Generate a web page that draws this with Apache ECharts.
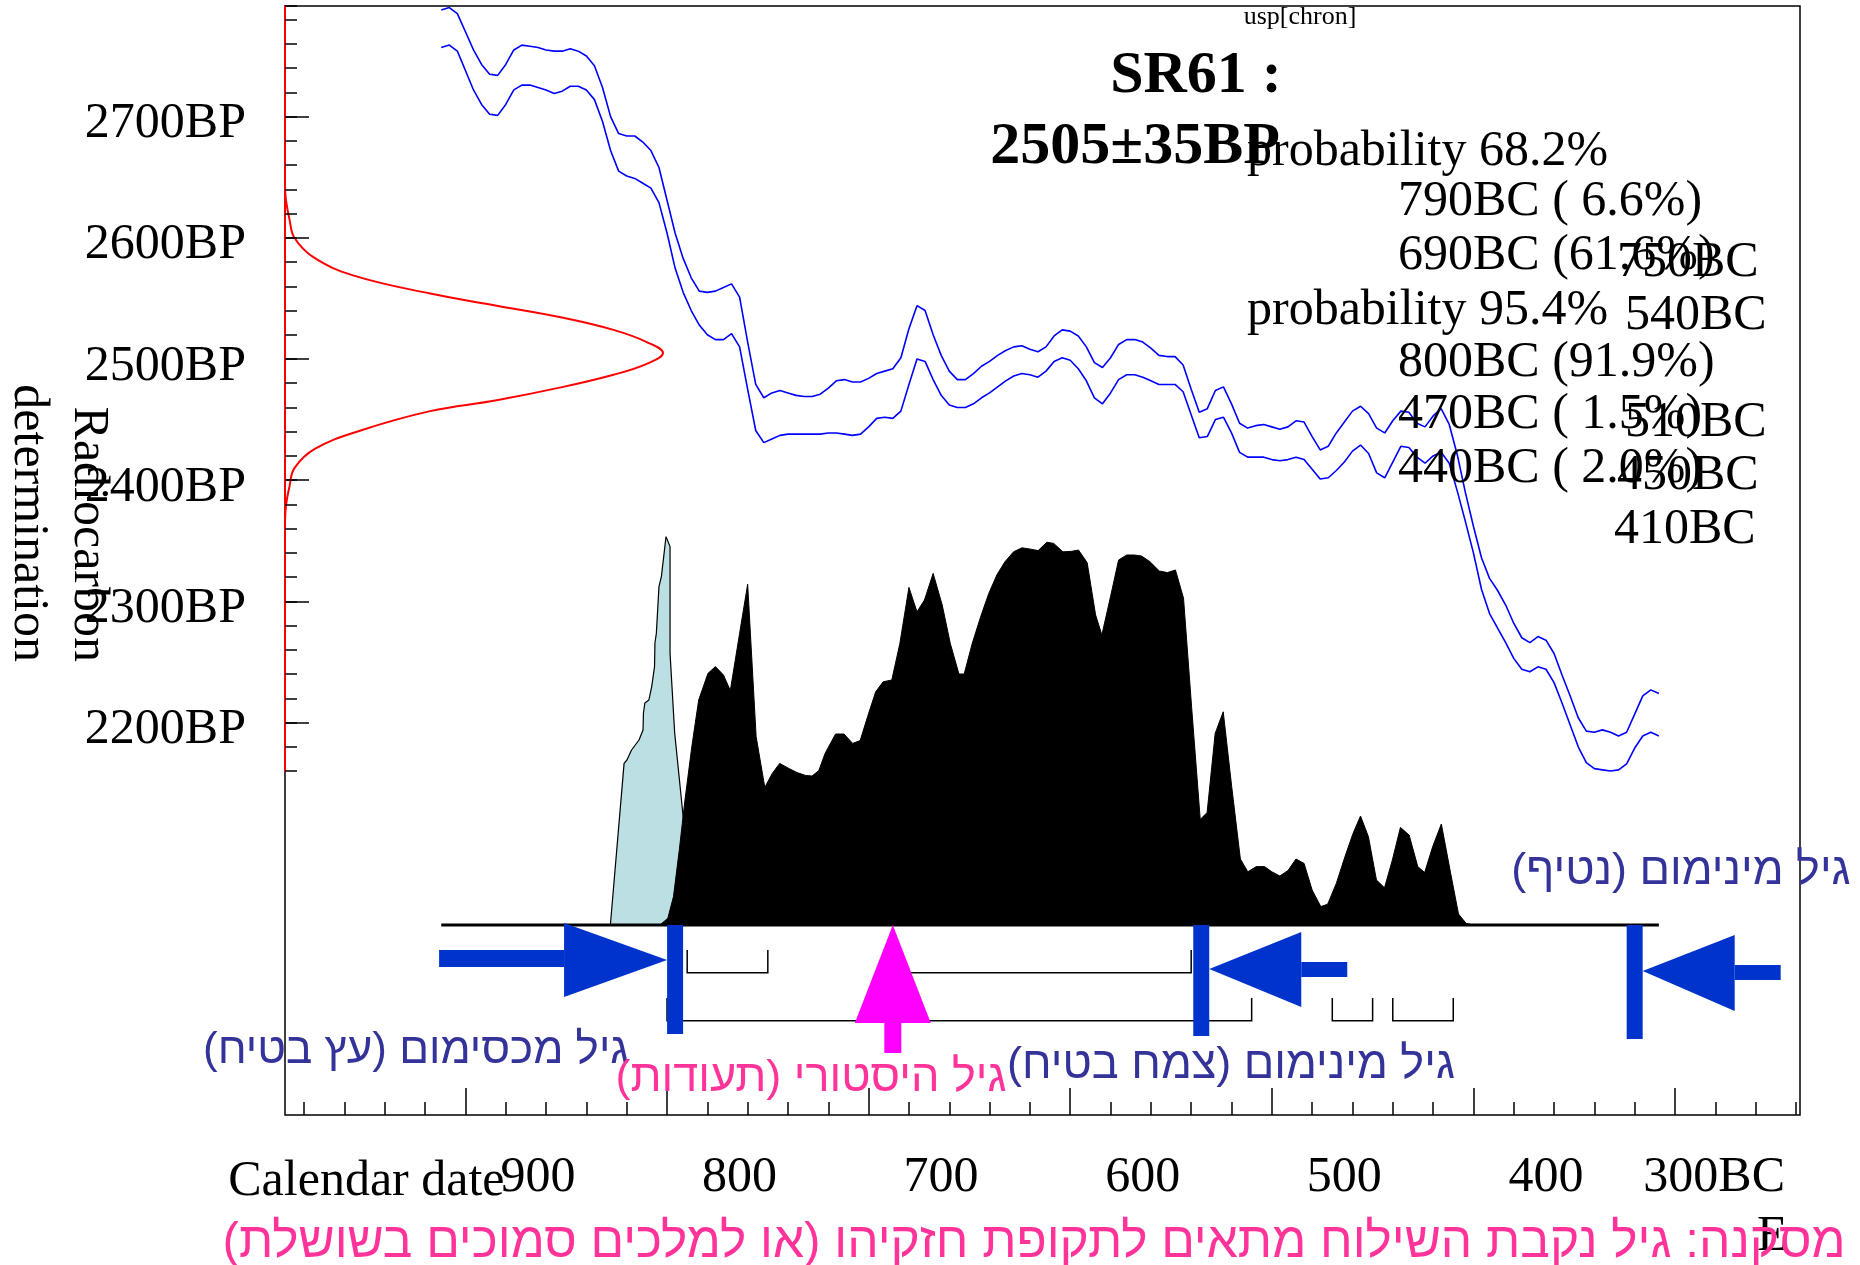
<!DOCTYPE html>
<html><head><meta charset="utf-8">
<script src="https://cdn.jsdelivr.net/npm/echarts@6/dist/echarts.min.js"></script>
<style>html,body{margin:0;padding:0;background:#fff}#chart{width:1860px;height:1265px}</style>
</head><body><div id="chart"></div>
<script>
// ================= DATA =================
// calibration curve (±1 sigma envelope), calendar years BC
const calYears = [912,908,904,900,896,892,888,884,880,876,872,868,864,860,856,852,848,844,840,836,832,828,824,820,816,812,808,804,800,
796,792,788,784,780,776,772,768,764,760,756,752,748,744,740,736,732,728,724,720,716,712,708,704,700,
696,692,688,684,680,676,672,668,664,660,656,652,648,644,640,636,632,628,624,620,616,612,608,604,600,
596,592,588,584,580,576,572,568,564,560,556,552,548,544,540,536,532,528,524,520,516,512,508,504,500,
496,492,488,484,480,476,472,468,464,460,456,452,448,444,440,436,432,428,424,420,416,412,408,404,400,
396,392,388,384,380,376,372,368,364,360,356,352,348,344,340,336,332,328,324,320,316,312,308];
const calUpperBP = [2788,2790,2785,2770,2755,2743,2735,2734,2743,2755,2759,2758,2757,2755,2754,2754,2756,2754,2750,2742,2724,2700,2686,2684,2684,2679,2672,2658,2631,
2604,2583,2567,2556,2555,2556,2559,2562,2551,2514,2479,2468,2472,2474,2472,2470,2469,2469,2471,2476,2482,2483,2481,2481,2484,
2488,2490,2492,2501,2525,2544,2540,2520,2503,2490,2483,2483,2488,2494,2498,2503,2507,2510,2511,2508,2506,2510,2519,2524,2523,
2519,2510,2497,2493,2501,2512,2516,2516,2514,2509,2503,2502,2502,2495,2475,2456,2459,2474,2477,2463,2447,2443,2445,2446,2444,
2442,2444,2449,2448,2436,2425,2428,2439,2448,2457,2461,2455,2443,2439,2449,2457,2456,2447,2444,2453,2459,2446,2421,2390,2362,
2336,2319,2309,2297,2282,2270,2266,2271,2268,2257,2239,2222,2204,2193,2192,2194,2192,2189,2192,2207,2222,2227,2224];
const calLowerBP = [2757,2759,2754,2738,2722,2710,2702,2701,2710,2722,2726,2726,2724,2722,2719,2721,2725,2725,2722,2714,2696,2672,2655,2651,2649,2645,2641,2629,2604,
2575,2555,2540,2528,2520,2516,2516,2521,2510,2475,2441,2431,2434,2437,2438,2438,2438,2438,2438,2439,2439,2438,2437,2438,2444,
2451,2452,2451,2457,2479,2500,2498,2483,2470,2462,2460,2460,2463,2468,2472,2477,2482,2486,2488,2487,2485,2490,2498,2501,2499,
2492,2482,2468,2463,2472,2483,2487,2487,2485,2482,2479,2479,2479,2473,2454,2435,2436,2450,2452,2439,2423,2419,2419,2419,2417,
2416,2417,2419,2417,2409,2401,2402,2408,2415,2424,2429,2422,2406,2402,2415,2428,2427,2419,2414,2420,2423,2414,2391,2366,2340,
2310,2290,2278,2266,2253,2244,2242,2246,2244,2233,2216,2198,2180,2167,2162,2161,2160,2161,2166,2179,2189,2192,2189];

// measured radiocarbon date 2505±35BP : [relative density, BP]
const measuredCurve = [[0,2640],[0.003,2630],[0.012,2615],[0.025,2600],[0.075,2584],[0.18,2569],[0.384,2554],[0.56,2544],
[0.736,2534],[0.869,2524],[0.957,2514],[1.0,2505],[0.957,2496],[0.869,2487],[0.736,2477],[0.56,2466],[0.384,2457],
[0.2,2441],[0.08,2426],[0.025,2410],[0.012,2395],[0.003,2380],[0,2365]];

// light (other) distribution : [year BC, relative probability]
const lightDist = [[828.1,0],[821.3,0.404],[819.9,0.4125],[817.6,0.4375],[813.9,0.4625],[811.9,0.4875],[811.7,0.53],
[811.0,0.555],[809.0,0.5625],[807.6,0.596],[806.2,0.646],[806.0,0.705],[805.3,0.729],[804.0,0.846],[802.8,0.871],
[800.5,0.971],[798.5,0.946],[798.5,0.679],[796.2,0.48],[792.0,0.271],[786.0,0]];

// calibrated distribution : [year BC, relative probability]
const calibDist = [[803.5,0],[799.6,0.017],[796.8,0.071],[793.9,0.188],[791.1,0.3125],[787.7,0.446],[784.3,0.5625],
[779.7,0.629],[776.0,0.646],[772.0,0.625],[768.6,0.586],[764.0,0.729],[760.0,0.852],[755.8,0.471],[751.5,0.344],
[747.8,0.379],[744.1,0.404],[739.8,0.392],[735.5,0.381],[731.3,0.374],[728.1,0.3725],[724.7,0.386],[721.6,0.429],
[716.4,0.4775],[712.2,0.4775],[707.9,0.454],[704.2,0.461],[700.5,0.521],[696.5,0.583],[692.8,0.608],[688.5,0.6125],
[684.5,0.704],[680.0,0.844],[676.0,0.783],[672.3,0.8125],[668.0,0.879],[663.5,0.8],[659.5,0.704],[655.2,0.6275],
[652.6,0.6275],[648.6,0.704],[644.4,0.771],[640.4,0.829],[636.4,0.875],[632.4,0.908],[628.1,0.933],[623.9,0.943],
[620.1,0.94],[615.9,0.936],[611.6,0.957],[608.2,0.954],[603.6,0.933],[599.6,0.934],[595.9,0.9375],[591.6,0.906],
[587.4,0.775],[584.3,0.725],[580.0,0.821],[576.0,0.9125],[572.0,0.925],[568.3,0.925],[564.6,0.9225],[560.4,0.908],
[555.8,0.885],[551.8,0.881],[547.8,0.8875],[543.8,0.817],[539.8,0.546],[535.5,0.264],[532.1,0.281],[528.1,0.479],
[524.1,0.533],[519.9,0.346],[515.6,0.165],[511.9,0.133],[507.7,0.146],[503.6,0.146],[500.0,0.133],[496.0,0.1225],
[492.0,0.136],[488.0,0.165],[484.0,0.154],[480.0,0.0875],[475.7,0.046],[472.3,0.052],[468.0,0.104],[463.7,0.171],
[459.7,0.229],[456.0,0.2725],[452.1,0.221],[448.1,0.1125],[444.1,0.093],[440.2,0.1625],[436.2,0.244],[431.9,0.225],
[427.6,0.146],[424.2,0.131],[420.2,0.196],[415.9,0.2525],[411.6,0.1375],[407.4,0.0275],[403.6,0.004],[400.0,0]];

const plotRange = [912, 308];
const range68 = [[790,750],[690,540]];
const range95 = [[800,510],[470,450],[440,410]];
const boundYears = [796, 535, 320];      // max age (tree), min age (plant), min age (stalactite)
const historicYears = [688];             // historical age (documents)

const bpTicks = [2200,2300,2400,2500,2600,2700];
const yearTicks = [900,800,700,600,500,400,300];
const yearTickLabels = ['900','800','700','600','500','400','300BC'];

const txtHeader = 'usp[chron]';
const txtTitle = 'SR61 :';
const txtDate = '2505±35BP';
const txtProb68 = 'probability 68.2%';
const txtProb95 = 'probability 95.4%';
const txtRanges68 = ['790BC ( 6.6%)','690BC (61.6%)'];
const txtRanges95 = ['800BC (91.9%)','470BC ( 1.5%)','440BC ( 2.0%)'];
const txtRangeEnds = ['750BC','540BC','510BC','450BC','410BC'];
const txtXName = 'Calendar date';
const txtYName = 'Radiocarbon\ndetermination';
const txtStray = 'E';
const heMinStalactite = 'גיל מינימום (נטיף)';
const heMaxTree = 'גיל מכסימום (עץ בטיח)';
const heHistoric = 'גיל היסטורי (תעודות)';
const heMinPlant = 'גיל מינימום (צמח בטיח)';
const heConclusion = 'מסקנה: גיל נקבת השילוח מתאים לתקופת חזקיהו (או למלכים סמוכים בשושלת)';

// ================= LAYOUT =================
const W = 1860, H = 1265;
const FL = 285, FR = 1800, FT = 6, FB = 1115;        // plot frame
const YEAR_L = 989.5, YEAR_R = 238;                   // years at frame edges
const PXY = (FR - FL) / (YEAR_L - YEAR_R);
const xPix = y => FL + (YEAR_L - y) * PXY;
const BP_PX = 1.212;
const yPix = bp => 359 - (bp - 2500) * BP_PX;
const bpAt = py => 2500 + (359 - py) / BP_PX;
const BP_TOP = bpAt(FT);
const BASE = 925, DIST_H = 400;                       // distribution baseline & height
const DENS_MAX = (FR - FL) / 378;
const SERIF = "'Liberation Serif','Times New Roman',serif";
const SANS = "'Liberation Sans','DejaVu Sans',Arial,sans-serif";
const BLUE = '#0033cc', PURPLE = '#333399', PINK = '#ff3399';
const RTL = s => '\u202B' + s + '\u202C';

const hiddenX = (grid, min, max, inverse) => ({type:'value', gridIndex:grid, show:false, min, max, inverse:!!inverse});
const hiddenY = (grid, min, max) => ({type:'value', gridIndex:grid, show:false, min, max});
const G = o => Object.assign({outerBoundsMode:'none', containLabel:false}, o);

const grids = [
  G({left:FL, width:FR-FL, top:yPix(2800), height:yPix(2200)-yPix(2800)}),   // 0 major BP ticks
  G({left:FL, width:FR-FL, top:FT, height:yPix(2160)-FT}),                   // 1 minor BP ticks + curves
  G({left:FL, width:FR-FL, top:FT, height:FB-FT, show:true, borderColor:'#000', borderWidth:1.5, backgroundColor:'transparent'}), // 2 frame
  G({left:xPix(980), width:(980-240)*PXY, top:FT, height:FB-FT}),            // 3 minor year ticks
  G({left:xPix(900), width:(900-300)*PXY, top:FT, height:FB-FT}),            // 4 major year ticks
  G({left:xPix(900)+110, width:(900-300)*PXY, top:FT, height:FB-FT}),        // 5 year labels
  G({left:FL, width:FR-FL, top:BASE-DIST_H, height:DIST_H})                  // 6 distributions
];

const xAxes = [
  hiddenX(0, 0, 1),
  hiddenX(1, YEAR_R, YEAR_L, true),
  Object.assign(hiddenX(1, 0, DENS_MAX), {position:'top'}),
  hiddenX(2, 0, 1),
  {type:'value', gridIndex:3, min:240, max:980, interval:20, inverse:true,
   axisLine:{show:false}, splitLine:{show:false}, axisLabel:{show:false},
   axisTick:{show:true, inside:true, length:13, lineStyle:{color:'#000', width:1.5}}},
  {type:'value', gridIndex:4, min:300, max:900, interval:100, inverse:true,
   axisLine:{show:false}, splitLine:{show:false}, axisLabel:{show:false},
   axisTick:{show:true, inside:true, length:27, lineStyle:{color:'#000', width:1.5}}},
  {type:'value', gridIndex:5, min:300, max:900, interval:100, inverse:true,
   axisLine:{show:false}, splitLine:{show:false}, axisTick:{show:false},
   axisLabel:{show:true, margin:38, align:'right', color:'#000', fontSize:50, fontFamily:SERIF,
     formatter: v => { const i = yearTicks.indexOf(v); return i >= 0 ? yearTickLabels[i] : ''; }}},
  hiddenX(6, YEAR_R, YEAR_L, true)
];

const yAxes = [
  {type:'value', gridIndex:0, min:2200, max:2800, interval:100,
   axisLine:{show:false}, splitLine:{show:false},
   axisTick:{show:true, inside:true, length:24, lineStyle:{color:'#000', width:1.5}},
   axisLabel:{show:true, margin:39, color:'#000', fontSize:50, fontFamily:SERIF,
     verticalAlign:'top', lineHeight:15,
     formatter: v => bpTicks.indexOf(v) >= 0 ? v + 'BP' : ''}},
  {type:'value', gridIndex:1, min:2160, max:BP_TOP, interval:20, z:10,
   axisLine:{show:true, lineStyle:{color:'#ff0000', width:2}}, splitLine:{show:false}, axisLabel:{show:false},
   axisTick:{show:true, inside:true, length:12, lineStyle:{color:'#000', width:1.5}}},
  hiddenY(2, 0, 1), hiddenY(3, 0, 1), hiddenY(4, 0, 1), hiddenY(5, 0, 1),
  hiddenY(6, 0, 1)
];

const barHalf = 8;
const boundLayout = [
  {dir:1,  barLen:109, tipDy:35, headLen:103, headTop:-2, headBot:72, stemLen:125, stemTop:25, stemBot:42},
  {dir:-1, barLen:111, tipDy:44, headLen:92,  headTop:7,  headBot:82, stemLen:46,  stemTop:37, stemBot:52},
  {dir:-1, barLen:114, tipDy:46, headLen:92,  headTop:10, headBot:86, stemLen:46,  stemTop:40, stemBot:55}
];

function bracketSeries(ranges, top, bot) {
  return {type:'custom', xAxisIndex:7, yAxisIndex:6, z:5, silent:true,
    data: ranges.map(r => [r[0], r[1]]),
    renderItem: (params, api) => {
      const a = api.coord([api.value(0), 0]);
      const b = api.coord([api.value(1), 0]);
      return {type:'polyline', shape:{points:[[a[0], a[1]+top],[a[0], a[1]+bot],[b[0], b[1]+bot],[b[0], b[1]+top]]},
              style:{stroke:'#000', lineWidth:1.5, fill:null}};
    }};
}

const series = [
  {type:'line', xAxisIndex:2, yAxisIndex:1, data:measuredCurve, showSymbol:false, smooth:0.4, clip:false,
   lineStyle:{color:'#ff0000', width:2}, z:4},
  {type:'line', xAxisIndex:1, yAxisIndex:1, data:calYears.map((y,i)=>[y, calUpperBP[i]]), showSymbol:false, clip:false,
   lineStyle:{color:'#0000ff', width:1.6}, z:3},
  {type:'line', xAxisIndex:1, yAxisIndex:1, data:calYears.map((y,i)=>[y, calLowerBP[i]]), showSymbol:false, clip:false,
   lineStyle:{color:'#0000ff', width:1.6}, z:3},
  {type:'line', xAxisIndex:7, yAxisIndex:6, data:lightDist, showSymbol:false, clip:false,
   lineStyle:{color:'#000', width:1.2}, areaStyle:{color:'#bbdfe2', opacity:1}, z:2},
  {type:'line', xAxisIndex:7, yAxisIndex:6, data:calibDist, showSymbol:false, clip:false,
   lineStyle:{color:'#000', width:1}, areaStyle:{color:'#000', opacity:1}, z:3},
  {type:'line', xAxisIndex:7, yAxisIndex:6, data:[[plotRange[0],0],[plotRange[1],0]], showSymbol:false, clip:false,
   lineStyle:{color:'#000', width:3}, z:4},
  bracketSeries(range68, 25, 47.7),
  bracketSeries(range95, 73, 95.7),
  {type:'custom', xAxisIndex:7, yAxisIndex:6, z:6, silent:true,
   data: boundYears.map(y => [y, 0]),
   renderItem: (params, api) => {
     const L = boundLayout[params.dataIndex];
     const p = api.coord([api.value(0), 0]);
     const cx = p[0], by = p[1];
     const tipX = cx - L.dir * barHalf;
     const backX = tipX - L.dir * L.headLen;
     const stemEnd = backX - L.dir * L.stemLen;
     return {type:'group', children:[
       {type:'rect', shape:{x:cx-barHalf, y:by, width:2*barHalf, height:L.barLen}, style:{fill:BLUE}},
       {type:'polygon', shape:{points:[[tipX, by+L.tipDy],[backX, by+L.headTop],[backX, by+L.headBot]]}, style:{fill:BLUE}},
       {type:'rect', shape:{x:Math.min(backX, stemEnd), y:by+L.stemTop, width:L.stemLen, height:L.stemBot-L.stemTop}, style:{fill:BLUE}}
     ]};
   }},
  {type:'custom', xAxisIndex:7, yAxisIndex:6, z:6, silent:true,
   data: historicYears.map(y => [y, 0]),
   renderItem: (params, api) => {
     const p = api.coord([api.value(0), 0]);
     const cx = p[0], by = p[1];
     return {type:'group', children:[
       {type:'polygon', shape:{points:[[cx, by],[cx-38, by+98],[cx+38, by+98]]}, style:{fill:'#ff00ff'}},
       {type:'rect', shape:{x:cx-8.5, y:by+97, width:17, height:31}, style:{fill:'#ff00ff'}}
     ]};
   }}
];

function txt(x, y, text, o) {
  o = o || {};
  return {type:'text', x, y, rotation:o.rotation || 0, z:20, silent:true,
    style:{text, fill:o.fill || '#000', fontSize:o.size || 50, fontFamily:o.family || SERIF,
      fontWeight:o.weight || 'normal', align:o.align || 'left', verticalAlign:'middle',
      lineHeight:o.lineHeight}};
}

const graphics = [
  txt(1300, 17.5, txtHeader, {size:26, align:'center'}),
  txt(1196, 76.5, txtTitle, {size:60, weight:'bold', align:'center'}),
  txt(1135, 147.5, txtDate, {size:60, weight:'bold', align:'center'}),
  txt(1247, 152, txtProb68),
  txt(1398, 202, txtRanges68[0]),
  txt(1398, 255.5, txtRanges68[1]),
  txt(1247, 311, txtProb95),
  txt(1398, 363, txtRanges95[0]),
  txt(1398, 415, txtRanges95[1]),
  txt(1398, 469, txtRanges95[2]),
  txt(1617, 263, txtRangeEnds[0]),
  txt(1625, 316, txtRangeEnds[1]),
  txt(1625, 423, txtRangeEnds[2]),
  txt(1617, 476, txtRangeEnds[3]),
  txt(1614, 530, txtRangeEnds[4]),
  txt(504.5, 1181.5, txtXName, {align:'right'}),
  txt(58, 662, txtYName, {align:'right', rotation:-Math.PI/2, lineHeight:60}),
  txt(1757, 1237, txtStray),
  txt(1681, 872, RTL(heMinStalactite), {family:SANS, size:45, fill:PURPLE, align:'center'}),
  txt(416, 1051, RTL(heMaxTree), {family:SANS, size:44, fill:PURPLE, align:'center'}),
  txt(811, 1079, RTL(heHistoric), {family:SANS, size:45, fill:PINK, align:'center'}),
  txt(1231, 1066, RTL(heMinPlant), {family:SANS, size:45, fill:PURPLE, align:'center'}),
  txt(1034, 1243, RTL(heConclusion), {family:SANS, size:49.6, fill:PINK, align:'center'})
];

const chart = echarts.init(document.getElementById('chart'), null, {renderer:'canvas', width:W, height:H});
chart.setOption({
  animation:false,
  backgroundColor:'#fff',
  grid: grids,
  xAxis: xAxes,
  yAxis: yAxes,
  series: series,
  graphic: graphics
});
</script>
</body></html>
